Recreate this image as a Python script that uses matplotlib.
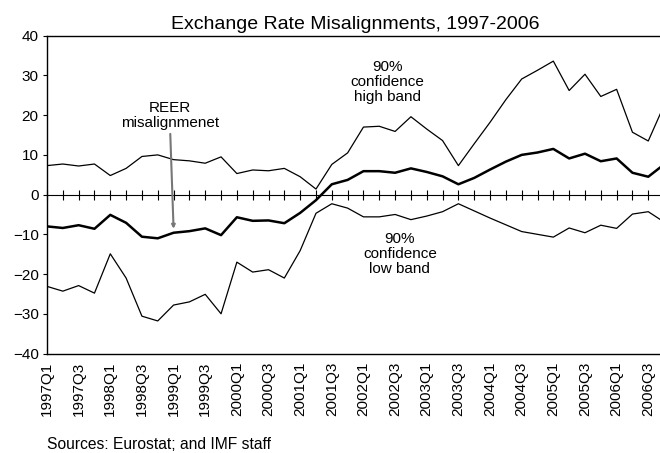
import matplotlib
matplotlib.use("Agg")
import matplotlib.pyplot as plt
import numpy as np

plt.rcParams["font.family"] = ["Liberation Sans", "DejaVu Sans"]

# quarters 1997Q1 .. 2006Q4
quarters = [f"{y}Q{q}" for y in range(1997, 2007) for q in range(1, 5)]

high_band = [7.3, 7.7, 7.2, 7.7, 4.8, 6.6, 9.6, 10.0, 8.8, 8.5,
             7.9, 9.5, 5.3, 6.2, 6.0, 6.6, 4.5, 1.4, 7.6, 10.5,
             17.0, 17.2, 15.9, 19.6, 16.5, 13.6, 7.3, 12.8, 18.2, 23.9,
             29.1, 31.3, 33.6, 26.2, 30.3, 24.7, 26.5, 15.7, 13.5, 22.5]

reer = [-8.0, -8.4, -7.7, -8.6, -5.1, -7.1, -10.6, -11.0, -9.6, -9.2,
        -8.5, -10.2, -5.7, -6.6, -6.5, -7.2, -4.6, -1.4, 2.6, 3.7,
        5.9, 5.9, 5.5, 6.6, 5.7, 4.6, 2.6, 4.2, 6.3, 8.3,
        10.0, 10.6, 11.5, 9.1, 10.3, 8.4, 9.1, 5.5, 4.5, 7.6]

low_band = [-23.1, -24.3, -22.9, -24.8, -14.9, -21.0, -30.6, -31.8, -27.8, -27.0,
            -25.1, -30.0, -17.0, -19.5, -18.9, -21.0, -14.1, -4.7, -2.3, -3.4,
            -5.6, -5.6, -5.0, -6.3, -5.4, -4.3, -2.3, -4.1, -5.9, -7.6,
            -9.3, -10.0, -10.7, -8.4, -9.6, -7.7, -8.5, -4.9, -4.3, -6.9]

x = np.arange(len(quarters))

fig = plt.figure(figsize=(6.6, 4.53), dpi=100)
ax = fig.add_axes([0.0712, 0.2196, 0.935, 0.7016])

ax.plot(x, high_band, color="black", lw=0.9)
ax.plot(x, low_band, color="black", lw=0.9)
ax.plot(x, reer, color="black", lw=1.8)

ax.set_xlim(0, len(quarters) - 1)
ax.set_ylim(-40, 40)
ax.set_yticks(range(-40, 41, 10))
ax.tick_params(axis="y", direction="out", length=3, labelsize=11, pad=3)

# labels every second quarter at the bottom, no tick marks there
ax.set_xticks(x[::2])
ax.set_xticklabels(quarters[::2], rotation=90, fontsize=11)
ax.tick_params(axis="x", length=0, pad=6)

# zero line with crossing quarter ticks
zero_axis = ax.secondary_xaxis(0.5)
zero_axis.set_xticks(x)
zero_axis.set_xticklabels([])
zero_axis.tick_params(axis="x", direction="inout", length=7, width=0.8)
zero_axis.spines["bottom"].set_linewidth(1.0)

for s in ax.spines.values():
    s.set_linewidth(1.0)

ax.set_title("Exchange Rate Misalignments, 1997-2006", fontsize=14, pad=5)

ax.annotate("REER\nmisalignmenet", xy=(8, -8.6), xytext=(7.75, 20),
            ha="center", va="center", fontsize=11, linespacing=1.1,
            arrowprops=dict(arrowstyle="-|>", color="#777777", lw=1.5,
                            mutation_scale=5, shrinkA=1, shrinkB=0))
ax.text(21.5, 28.3, "90%\nconfidence\nhigh band", ha="center", va="center",
        fontsize=11, linespacing=1.1)
ax.text(22.3, -14.9, "90%\nconfidence\nlow band", ha="center", va="center",
        fontsize=11, linespacing=1.1)

fig.text(0.0712, 0.008, "Sources: Eurostat; and IMF staff", fontsize=11.25,
         ha="left", va="baseline")

fig.savefig("out.png", dpi=100)
